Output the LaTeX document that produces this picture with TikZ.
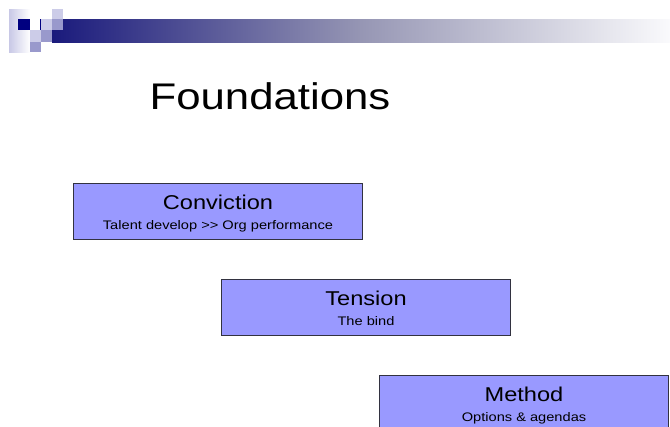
\documentclass[tikz,border=0pt]{standalone}
\usepackage{fontspec}
\setmainfont{Liberation Sans}
\definecolor{boxfill}{RGB}{153,153,255}
\definecolor{boxline}{RGB}{50,50,64}
\definecolor{navy}{RGB}{0,0,128}
\definecolor{barleft}{RGB}{26,26,124}
\definecolor{barmid}{RGB}{150,150,180}
\definecolor{barright}{RGB}{250,250,252}
\definecolor{lightlav}{RGB}{204,204,232}
\definecolor{midlav}{RGB}{153,153,204}
\definecolor{fadelav}{RGB}{200,200,230}
\tikzset{
  box/.style={draw=boxline, line width=0.75pt, fill=boxfill, rectangle, anchor=north west,
    minimum width=216.75pt, minimum height=42pt, inner sep=0pt},
  headtext/.style={anchor=base, inner sep=0pt, font=\fontsize{15}{18}\selectfont},
  subtext/.style={anchor=base, inner sep=0pt, font=\fontsize{9.3}{11}\selectfont},
  titletext/.style={anchor=base, inner sep=0pt, font=\fontsize{27.8}{32}\selectfont}
}
\newcommand{\wide}[1]{\scalebox{1.18}[1]{#1}}
\begin{document}
\begin{tikzpicture}[x=0.75pt, y=-0.75pt]
\useasboundingbox (0,0) rectangle (670,426);
\clip (0,0) rectangle (670,426);
% logo
\shade[left color=fadelav, right color=white] (9,9) rectangle (30,52);
\shade[left color=barleft, right color=barright, middle color=barmid] (52,19) rectangle (670,42);
\fill[navy] (18,19) rectangle (30,30);
\fill[navy] (40,19) rectangle (41,30);
\fill[lightlav] (41,19) rectangle (52,30);
\fill[lightlav] (52,9) rectangle (63,19);
\fill[midlav] (52,19) rectangle (63,30);
\fill[lightlav] (30,30) rectangle (41,42);
\fill[midlav] (41,30) rectangle (52,42);
\fill[midlav] (30,42) rectangle (41,52);
% title
\node[titletext] (title) at (270,109) {\wide{Foundations}};
% boxes
\node[box] (conv) at (73,183) {};
\node[headtext] (convh) at ([yshift=-19.5pt]conv.north) {\wide{Conviction}};
\node[subtext] (convs) at ([yshift=-34.5pt]conv.north) {\wide{Talent develop \mbox{>}\mbox{>} Org performance}};
\node[box] (tens) at (221,279) {};
\node[headtext] (tensh) at ([yshift=-20pt]tens.north) {\wide{Tension}};
\node[subtext] (tenss) at ([yshift=-34.5pt]tens.north) {\wide{The bind}};
\node[box] (meth) at (379,375) {};
\node[headtext] (methh) at ([yshift=-20pt]meth.north) {\wide{Method}};
\node[subtext] (meths) at ([yshift=-34.5pt]meth.north) {\wide{Options \& agendas}};
\end{tikzpicture}
\end{document}
